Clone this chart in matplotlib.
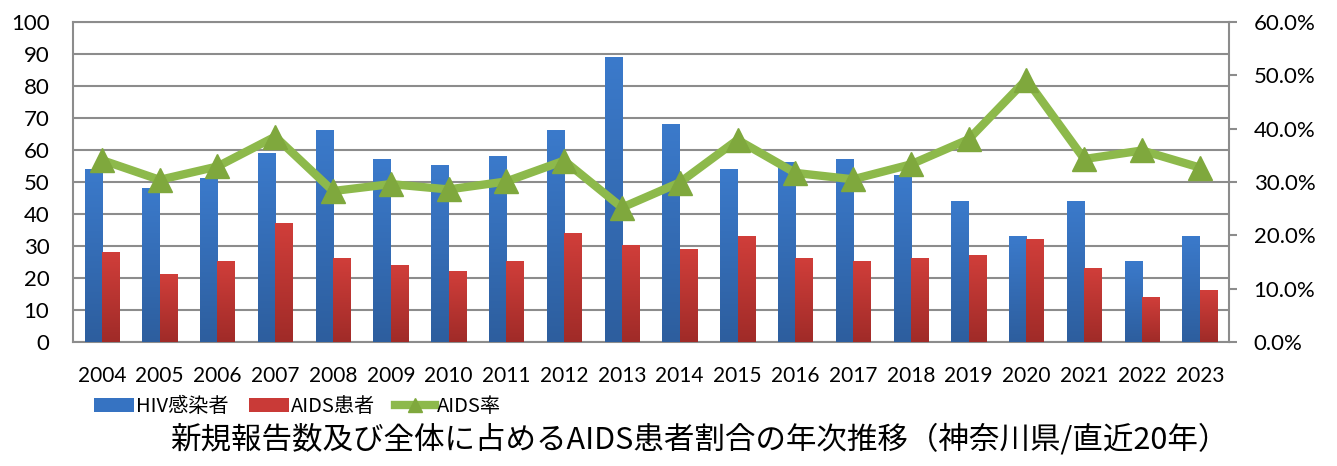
import numpy as np
import matplotlib
matplotlib.use("Agg")
import matplotlib.pyplot as plt
from matplotlib.colors import LinearSegmentedColormap
from matplotlib.ticker import PercentFormatter

plt.rcParams['font.family'] = ['Noto Sans CJK JP', 'DejaVu Sans']
numfont = ['Lato', 'DejaVu Sans']

years = ['2004', '2005', '2006', '2007', '2008', '2009', '2010', '2011', '2012', '2013',
         '2014', '2015', '2016', '2017', '2018', '2019', '2020', '2021', '2022', '2023']
hiv = [54, 48, 51, 59, 66, 57, 55, 58, 66, 89, 68, 54, 56, 57, 52, 44, 33, 44, 25, 33]
aids = [28, 21, 25, 37, 26, 24, 22, 25, 34, 30, 29, 33, 26, 25, 26, 27, 32, 23, 14, 16]
aids_rate = [34.1, 30.4, 32.9, 38.5, 28.3, 29.6, 28.6, 30.1, 34.0, 25.2,
             29.9, 37.9, 31.7, 30.5, 33.3, 38.0, 49.2, 34.3, 35.9, 32.7]

x = np.arange(len(years))
w = 0.3

fig = plt.figure(figsize=(13.37, 4.66), dpi=100)
ax = fig.add_axes([0.0546, 0.266, 0.8644, 0.687])

b1 = ax.bar(x - w/2, hiv, w, color='#3673C2', label='HIV感染者', zorder=3)
b2 = ax.bar(x + w/2, aids, w, color='#C93A37', label='AIDS患者', zorder=3)

# vertical gradient fill on the bars (lighter at top)
grad = np.linspace(0, 1, 100).reshape(-1, 1)
cm_blue = LinearSegmentedColormap.from_list('b', ['#2D5E9E', '#3B7ACB'])
cm_red = LinearSegmentedColormap.from_list('r', ['#A02B28', '#D03E3A'])
for bars, cm in [(b1, cm_blue), (b2, cm_red)]:
    for p in bars:
        x0, y0 = p.get_x(), p.get_y()
        ax.imshow(grad, extent=[x0, x0 + p.get_width(), y0, y0 + p.get_height()],
                  origin='lower', aspect='auto', cmap=cm, zorder=3.1)

ax.set_ylim(0, 100)
ax.set_xlim(-0.5, len(years) - 0.5)
ax.set_yticks(range(0, 101, 10))
ax.set_xticks(x)
ax.set_xticklabels(years, fontsize=15, family=numfont)
for t in ax.get_yticklabels():
    t.set_family(numfont)
ax.tick_params(axis='y', labelsize=16, length=0, pad=17)
ax.tick_params(axis='x', length=0, pad=17)
ax.grid(axis='y', color='#8c8c8c', linewidth=1.5, zorder=0)
for s in ['left', 'bottom', 'top']:
    ax.spines[s].set_color('#8c8c8c')
    ax.spines[s].set_linewidth(1.5)
ax.spines['right'].set_visible(False)

ax2 = ax.twinx()
ax2.plot(x, aids_rate, color='#8DB94B', linewidth=6, marker='^', markersize=17,
         markerfacecolor='#7FA83D', markeredgecolor='#7FA83D', label='AIDS率', zorder=4)
ax2.set_ylim(0, 60)
ax2.set_yticks(range(0, 61, 10))
ax2.yaxis.set_major_formatter(PercentFormatter(decimals=1))
for t in ax2.get_yticklabels():
    t.set_family(numfont)
ax2.tick_params(axis='y', labelsize=16, length=6, width=1.5, color='#8c8c8c', pad=12)
for s in ['left', 'bottom', 'top']:
    ax2.spines[s].set_visible(False)
ax2.spines['right'].set_color('#8c8c8c')
ax2.spines['right'].set_linewidth(1.5)

h1, l1 = ax.get_legend_handles_labels()
h2, l2 = ax2.get_legend_handles_labels()
fig.legend(h1 + h2, l1 + l2, loc='center left', bbox_to_anchor=(0.064, 0.128), ncol=3,
           frameon=False, fontsize=14.5, handlelength=2.0, handleheight=0.7,
           columnspacing=1.0, handletextpad=0.1, markerscale=0.6, borderaxespad=0)

fig.text(0.523, 0.056, '新規報告数及び全体に占めるAIDS患者割合の年次推移（神奈川県/直近20年）',
         ha='center', va='center', fontsize=22)

fig.savefig('out.png', dpi=100)
